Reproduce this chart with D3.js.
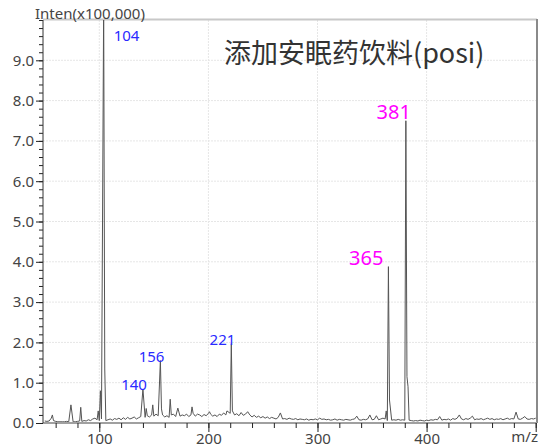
<!DOCTYPE html>
<html>
<head>
    <meta charset="utf-8">
    <script src="https://cdnjs.cloudflare.com/ajax/libs/d3/7.8.5/d3.min.js"></script>
    <style>
        body { margin: 0; background-color: #fff; }
        svg { display: block; }
        .tick text { font: 15px 'Noto Sans'; fill: #444; }
        .tick line { stroke: #222; }
        .domain { display: none; }
    </style>
</head>
<body>
    <svg width="545" height="447"></svg>
    <script>
        // baseline profile, one reading every 2 m/z from 50 to 500 (x100,000)
        var baseMz = d3.range(50, 501, 2);
        var baseInten = [
            0.05,0.04,0.05,0.12,0.06,0.04,0.03,0.03,0.03,0.03,
            0.04,0.03,0.03,0.03,0.03,0.04,0.05,0.04,0.06,0.05,
            0.08,0.06,0.10,0.12,0.08,0.06,0.10,0.08,0.06,0.08,
            0.10,0.07,0.11,0.09,0.12,0.08,0.13,0.09,0.14,0.10,
            0.12,0.15,0.10,0.13,0.16,0.12,0.14,0.18,0.15,0.20,
            0.17,0.22,0.18,0.14,0.20,0.15,0.18,0.14,0.20,0.22,
            0.16,0.25,0.17,0.20,0.18,0.22,0.16,0.20,0.24,0.17,
            0.22,0.20,0.16,0.21,0.18,0.24,0.22,0.17,0.20,0.16,
            0.22,0.19,0.25,0.20,0.28,0.24,0.30,0.20,0.23,0.18,
            0.26,0.19,0.22,0.17,0.20,0.15,0.19,0.14,0.17,0.13,
            0.16,0.12,0.15,0.11,0.14,0.12,0.10,0.14,0.12,0.10,
            0.11,0.09,0.12,0.10,0.09,0.11,0.08,0.10,0.09,0.08,
            0.10,0.07,0.09,0.08,0.10,0.08,0.12,0.09,0.10,0.08,
            0.09,0.07,0.08,0.10,0.07,0.09,0.08,0.07,0.09,0.08,
            0.07,0.09,0.10,0.17,0.08,0.07,0.09,0.08,0.10,0.20,
            0.08,0.09,0.18,0.08,0.10,0.12,0.10,0.06,0.08,0.07,
            0.08,0.07,0.09,0.07,0.08,0.07,0.06,0.07,0.06,0.05,
            0.06,0.05,0.07,0.06,0.05,0.07,0.06,0.08,0.07,0.09,
            0.08,0.16,0.07,0.09,0.08,0.10,0.07,0.11,0.09,0.12,
            0.20,0.10,0.08,0.11,0.09,0.12,0.17,0.08,0.10,0.09,
            0.11,0.08,0.10,0.12,0.09,0.11,0.08,0.10,0.09,0.11,
            0.08,0.10,0.12,0.09,0.11,0.10,0.27,0.10,0.09,0.12,
            0.16,0.10,0.09,0.11,0.10,0.12
        ];

        // peaks
        var peakMz    = [57, 74, 83, 99, 101, 104, 105, 140, 143, 149, 156, 157, 165, 172, 185, 201, 217, 221, 236, 266, 363, 365, 366, 381, 382, 383];
        var peakInten = [0.2, 0.45, 0.39, 0.3, 0.8, 10.4, 1.34, 0.84, 0.36, 0.45, 1.55, 0.35, 0.59, 0.37, 0.4, 0.28, 0.3, 1.97, 0.28, 0.25, 0.3, 3.88, 0.57, 7.5, 1.15, 0.9];

        // labelled peaks
        var labelMz    = [104, 140, 156, 221, 365, 381];
        var labelInten = [10.4, 0.84, 1.55, 1.97, 3.88, 7.5];
        var labelKind  = ["blue", "blue", "blue", "blue", "pink", "pink"];

        var yMajor = [0, 1, 2, 3, 4, 5, 6, 7, 8, 9];
        var xMajor = [100, 200, 300, 400, 500];
        var xLabels = ["100", "200", "300", "400", ""];

        var title = "添加安眠药饮料(posi)";
        var yTitle = "Inten(x100,000)";
        var xTitle = "m/z";

        var svg = d3.select("svg"),
            box = {left: 43, right: 537, top: 20, bottom: 423};

        var x = d3.scaleLinear().domain([48.4, 501.2]).range([box.left, box.right]),
            y = d3.scaleLinear().domain([0, 10]).range([box.bottom, box.top]);

        svg.append("clipPath").attr("id", "plot")
            .append("rect")
            .attr("x", box.left).attr("y", box.top)
            .attr("width", box.right - box.left).attr("height", box.bottom - box.top);

        //grid
        svg.append("g").selectAll("line")
            .data(yMajor.slice(1))
            .enter().append("line")
            .attr("x1", box.left).attr("x2", box.right)
            .attr("y1", function(d) { return y(d); })
            .attr("y2", function(d) { return y(d); })
            .attr("stroke", "#e6e6e6")
            .attr("stroke-dasharray", "2,1");
        svg.append("g").selectAll("line")
            .data(xMajor.slice(0, 4))
            .enter().append("line")
            .attr("y1", box.top).attr("y2", box.bottom)
            .attr("x1", function(d) { return x(d); })
            .attr("x2", function(d) { return x(d); })
            .attr("stroke", "#e6e6e6")
            .attr("stroke-dasharray", "2,1");

        //frame
        svg.append("line")
            .attr("x1", box.left).attr("x2", box.right)
            .attr("y1", box.top - 0.5).attr("y2", box.top - 0.5)
            .attr("stroke", "#c8c8c8").attr("stroke-width", 2);
        svg.append("line")
            .attr("x1", box.right).attr("x2", box.right)
            .attr("y1", box.top - 1).attr("y2", box.bottom)
            .attr("stroke", "#8a8a8a").attr("stroke-width", 2);

        //spectrum: baseline readings plus peaks, sorted by m/z
        var peakSet = {};
        peakMz.forEach(function(m) { peakSet[m] = true; });
        var points = [];
        baseMz.forEach(function(m, i) {
            if (!peakSet[m]) points.push([m, baseInten[i]]);
        });
        peakMz.forEach(function(m, i) { points.push([m, peakInten[i]]); });
        points.sort(function(a, b) { return a[0] - b[0]; });

        svg.append("path")
            .datum(points)
            .attr("clip-path", "url(#plot)")
            .attr("fill", "none")
            .attr("stroke", "#555")
            .attr("stroke-width", 1)
            .attr("d", d3.line()
                .x(function(d) { return x(d[0]); })
                .y(function(d) { return y(d[1]); }));

        //x axis
        svg.append("line")
            .attr("x1", box.left).attr("x2", box.right)
            .attr("y1", box.bottom).attr("y2", box.bottom)
            .attr("stroke", "#a0a0a0").attr("stroke-width", 2);
        svg.append("g")
            .attr("transform", "translate(0," + box.bottom + ")")
            .call(d3.axisBottom(x).tickValues(d3.range(60, 501, 20)).tickSize(5).tickFormat(""));
        svg.append("g")
            .attr("transform", "translate(0," + box.bottom + ")")
            .call(d3.axisBottom(x).tickValues(xMajor).tickSize(9).tickPadding(1)
                .tickFormat(function(d, i) { return xLabels[i]; }));
        svg.append("text")
            .attr("x", box.right + 1).attr("y", 442)
            .attr("text-anchor", "end")
            .style("font", "15px 'Noto Sans'").style("fill", "#444")
            .text(xTitle);

        //y axis
        svg.append("g")
            .attr("transform", "translate(" + box.left + ",0)")
            .call(d3.axisLeft(y).tickValues(d3.range(0, 10.01, 0.2)).tickSize(4).tickFormat(""));
        svg.append("g")
            .attr("transform", "translate(" + box.left + ",0)")
            .call(d3.axisLeft(y).tickValues(yMajor).tickSize(7).tickPadding(2).tickFormat(d3.format(".1f")));
        svg.append("line")
            .attr("x1", box.left).attr("x2", box.left)
            .attr("y1", box.top).attr("y2", box.bottom)
            .attr("stroke", "#333");
        svg.append("text")
            .attr("x", 35).attr("y", 19)
            .style("font", "15px 'Noto Sans'").style("fill", "#444")
            .text(yTitle);

        //peak labels
        var labelStyle = {
            blue: {color: "#2a2aff", size: 15, dx: 4, dy: 1},
            pink: {color: "#ff00ff", size: 20, dx: 5, dy: -2}
        };
        svg.append("g").selectAll("text")
            .data(labelMz)
            .enter().append("text")
            .attr("x", function(d, i) {
                if (d === 104) return x(d) + 10;
                if (d === 365) return x(d) - 5;
                return x(d) + labelStyle[labelKind[i]].dx;
            })
            .attr("y", function(d, i) {
                if (d === 104) return 41;
                return y(labelInten[i]) + labelStyle[labelKind[i]].dy;
            })
            .attr("text-anchor", function(d) { return d === 104 ? "start" : "end"; })
            .style("font-family", "'Noto Sans'")
            .style("font-size", function(d, i) { return labelStyle[labelKind[i]].size + "px"; })
            .style("fill", function(d, i) { return labelStyle[labelKind[i]].color; })
            .text(function(d) { return d; });

        //title
        svg.append("text")
            .attr("x", 224).attr("y", 63)
            .style("font", "27px 'Noto Sans CJK SC'")
            .style("fill", "#333")
            .text(title);
    </script>
</body>
</html>
